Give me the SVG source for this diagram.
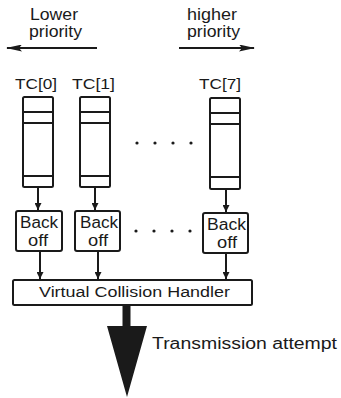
<svg xmlns="http://www.w3.org/2000/svg" width="341" height="398" viewBox="0 0 341 398">
<style>
text{font-family:"Liberation Sans",Arial,sans-serif;fill:#1a1a1a}
.t16{font-size:16px}
.t15{font-size:15px}
.t14{font-size:14px}
.box{fill:#fff;stroke:#1a1a1a;stroke-width:2}
.ln{stroke:#1a1a1a;stroke-width:2;fill:none}
.dot{fill:#1a1a1a}
</style>
<defs>
<marker id="ah" viewBox="0 0 16 7" refX="15" refY="3.5" markerWidth="8" markerHeight="3.5" orient="auto" markerUnits="strokeWidth"><path d="M0,0 L16,3.5 L0,7 L3,3.5 z" fill="#1a1a1a"/></marker>
<marker id="ahs" viewBox="0 0 10 10" refX="10" refY="5" markerWidth="3.5" markerHeight="3.5" orient="auto" markerUnits="strokeWidth"><path d="M0,0 L10,5 L0,10 z" fill="#1a1a1a"/></marker>
</defs>
<g id="legend-lower">
<text class="t16" x="30" y="20" textLength="48" lengthAdjust="spacingAndGlyphs">Lower</text>
<text class="t16" x="29" y="37" textLength="53" lengthAdjust="spacingAndGlyphs">priority</text>
</g>
<g id="legend-higher">
<text class="t16" x="187" y="20" textLength="50" lengthAdjust="spacingAndGlyphs">higher</text>
<text class="t16" x="187" y="37" textLength="53" lengthAdjust="spacingAndGlyphs">priority</text>
</g>
<g id="tc0">
<text class="t15" x="15" y="89" textLength="42" lengthAdjust="spacingAndGlyphs">TC[0]</text>
<rect class="box" x="23" y="97" width="30" height="90" rx="1.5"/>
<path class="ln" d="M23,112H53M23,123H53M23,176H53"/>
</g>
<g id="tc1">
<text class="t15" x="72" y="89" textLength="43" lengthAdjust="spacingAndGlyphs">TC[1]</text>
<rect class="box" x="80" y="97" width="30" height="90" rx="1.5"/>
<path class="ln" d="M80,112H110M80,123H110M80,176H110"/>
</g>
<g id="tc7">
<text class="t15" x="199" y="89" textLength="42" lengthAdjust="spacingAndGlyphs">TC[7]</text>
<rect class="box" x="210" y="98" width="30" height="91" rx="1.5"/>
<path class="ln" d="M210,113H240M210,124H240M210,177H240"/>
</g>
<g id="backoff0">
<rect class="box" x="16" y="211" width="46" height="40" rx="2"/>
<text class="t16" x="20" y="228" textLength="38" lengthAdjust="spacingAndGlyphs">Back</text>
<text class="t16" x="28" y="246" textLength="20" lengthAdjust="spacingAndGlyphs">off</text>
</g>
<g id="backoff1">
<rect class="box" x="75" y="211" width="45" height="40" rx="2"/>
<text class="t16" x="80" y="228" textLength="38" lengthAdjust="spacingAndGlyphs">Back</text>
<text class="t16" x="88" y="246" textLength="20" lengthAdjust="spacingAndGlyphs">off</text>
</g>
<g id="backoff7">
<rect class="box" x="203" y="213" width="45" height="40" rx="2"/>
<text class="t16" x="207" y="230" textLength="39" lengthAdjust="spacingAndGlyphs">Back</text>
<text class="t16" x="217" y="248" textLength="20" lengthAdjust="spacingAndGlyphs">off</text>
</g>
<g id="vch">
<rect class="box" x="13" y="280" width="239" height="25" rx="1.5"/>
<text class="t14" x="39" y="297" textLength="191" lengthAdjust="spacingAndGlyphs">Virtual Collision Handler</text>
</g>
<g id="dots">
<circle class="dot" cx="137" cy="143" r="1.6"/>
<circle class="dot" cx="155" cy="143" r="1.6"/>
<circle class="dot" cx="173" cy="143" r="1.6"/>
<circle class="dot" cx="191" cy="143" r="1.6"/>
<circle class="dot" cx="136" cy="231" r="1.6"/>
<circle class="dot" cx="154" cy="231" r="1.6"/>
<circle class="dot" cx="172" cy="231" r="1.6"/>
<circle class="dot" cx="190" cy="231" r="1.6"/>
</g>
<g id="connectors">
<line class="ln" x1="97" y1="48" x2="7" y2="48" marker-end="url(#ah)"/>
<line class="ln" x1="179" y1="48" x2="254" y2="48" marker-end="url(#ah)"/>
<line class="ln" x1="38" y1="188" x2="38" y2="210" marker-end="url(#ahs)"/>
<line class="ln" x1="95" y1="188" x2="95" y2="210" marker-end="url(#ahs)"/>
<line class="ln" x1="226" y1="190" x2="226" y2="212" marker-end="url(#ahs)"/>
<line class="ln" x1="40" y1="252" x2="40" y2="279" marker-end="url(#ahs)"/>
<line class="ln" x1="98" y1="252" x2="98" y2="279" marker-end="url(#ahs)"/>
<line class="ln" x1="226" y1="254" x2="226" y2="279" marker-end="url(#ahs)"/>
<path d="M122.5,306H130.5V326H147L127,397L107,326H122.5Z" fill="#1a1a1a"/>
</g>
<g id="label-transmission">
<text class="t16" x="152" y="349" textLength="185" lengthAdjust="spacingAndGlyphs">Transmission attempt</text>
</g>
</svg>
